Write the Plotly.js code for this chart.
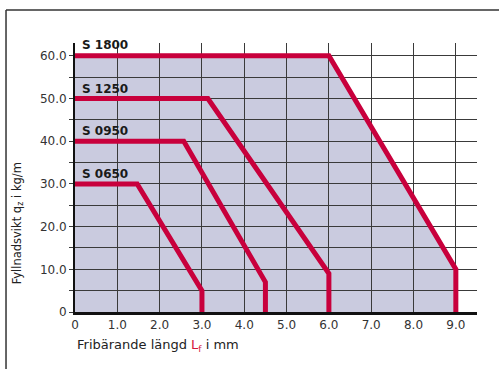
<!DOCTYPE html>
<html>
<head>
<meta charset="utf-8">
<script src="https://cdn.plot.ly/plotly-3.0.1.min.js"></script>
<style>html,body{margin:0;padding:0;background:#fff;}#chart{width:499px;height:369px;}</style>
</head>
<body>
<div id="chart"></div>
<script>
// Series (x = free span, y = load in kg/m)
const seriesNames = ["S 1800", "S 1250", "S 0950", "S 0650"];
const s1800_x = [0, 6.0, 9.0, 9.0];
const s1800_y = [60, 60, 10, 0];
const s1250_x = [0, 3.14, 6.0, 6.0];
const s1250_y = [50, 50, 9, 0];
const s0950_x = [0, 2.57, 4.5, 4.5];
const s0950_y = [40, 40, 7, 0];
const s0650_x = [0, 1.47, 3.0, 3.0];
const s0650_y = [30, 30, 5, 0];
const xTickVals = [0, 1, 2, 3, 4, 5, 6, 7, 8, 9];
const xTickText = ["0", "1.0", "2.0", "3.0", "4.0", "5.0", "6.0", "7.0", "8.0", "9.0"];
const yTickVals = [0, 10, 20, 30, 40, 50, 60];
const yTickText = ["0", "10.0", "20.0", "30.0", "40.0", "50.0", "60.0"];

const RED = "#c8003c";
const FILL = "#cacbdf";
const FONT = "DejaVu Sans";

const xs = [s1800_x, s1250_x, s0950_x, s0650_x];
const ys = [s1800_y, s1250_y, s0950_y, s0650_y];

const traces = xs.map((x, i) => ({
  type: "scatter", mode: "lines", x: x, y: ys[i],
  line: {color: RED, width: 5, shape: "linear"},
  hoverinfo: "skip", showlegend: false, cliponaxis: false
}));

// filled envelope under S 1800 (drawn below the gridlines)
const polyX = [0].concat(s1800_x);
const polyY = [0].concat(s1800_y);
let path = "";
polyX.forEach((v, i) => { path += (i === 0 ? "M" : "L") + v + "," + polyY[i]; });
path += "Z";

const labelOffset = [2.5, 2.3, 2.3, 2.4];
const annotations = seriesNames.map((n, i) => ({
  x: 0.12, y: ys[i][0] + labelOffset[i], xref: "x", yref: "y",
  text: "<b>" + n + "</b>", showarrow: false, xanchor: "left", yanchor: "middle",
  font: {family: FONT, size: 12, color: "#1a1a1a"}
}));
annotations.push({
  x: 0, y: -0.123, xref: "paper", yref: "paper", xanchor: "left", yanchor: "middle",
  text: 'Fribärande längd <span style="color:#d4143c">L<sub>f</sub></span> i mm',
  showarrow: false, font: {family: FONT, size: 13, color: "#222"}
});
annotations.push({
  x: -0.144, y: 0.33, xref: "paper", yref: "paper", xanchor: "center", yanchor: "middle",
  text: "Fyllnadsvikt q<sub>z</sub> i kg/m", textangle: -90,
  showarrow: false, font: {family: FONT, size: 11.5, color: "#222"}
});

const layout = {
  width: 499, height: 369,
  margin: {l: 75, r: 22, t: 43, b: 57},
  paper_bgcolor: "#fff", plot_bgcolor: "#fff",
  font: {family: FONT, size: 12, color: "#333"},
  showlegend: false,
  xaxis: {
    range: [0, 9.5], tickmode: "array", tickvals: xTickVals, ticktext: xTickText,
    showgrid: true, gridcolor: "#3a3a3a", gridwidth: 1,
    showline: true, linecolor: "#111", linewidth: 2.5,
    ticks: "", zeroline: false, fixedrange: true,
    tickfont: {family: FONT, size: 12, color: "#333"}
  },
  yaxis: {
    range: [0, 63], tickmode: "array", tickvals: yTickVals, ticktext: yTickText,
    showgrid: true, gridcolor: "#3a3a3a", gridwidth: 1,
    minor: {dtick: 5, tick0: 0, showgrid: true, gridcolor: "#3a3a3a", gridwidth: 1, ticks: "outside", ticklen: 4, tickcolor: "#3a3a3a"},
    showline: true, linecolor: "#111", linewidth: 2,
    ticks: "outside", ticklen: 4, tickcolor: "#3a3a3a",
    zeroline: false, fixedrange: true,
    tickfont: {family: FONT, size: 12, color: "#333"}
  },
  shapes: [
    {type: "path", xref: "x", yref: "y", path: path, fillcolor: FILL, line: {width: 0}, layer: "below"},
    {type: "line", xref: "paper", yref: "paper", x0: -0.1716, x1: 1.06, y0: 1.1227, y1: 1.1227, line: {color: "#333", width: 1.5}},
    {type: "line", xref: "paper", yref: "paper", x0: -0.1716, x1: -0.1716, y0: 1.1227, y1: -0.22, line: {color: "#333", width: 1.5}}
  ],
  annotations: annotations
};

Plotly.newPlot("chart", traces, layout, {displayModeBar: false, staticPlot: true});
</script>
</body>
</html>
